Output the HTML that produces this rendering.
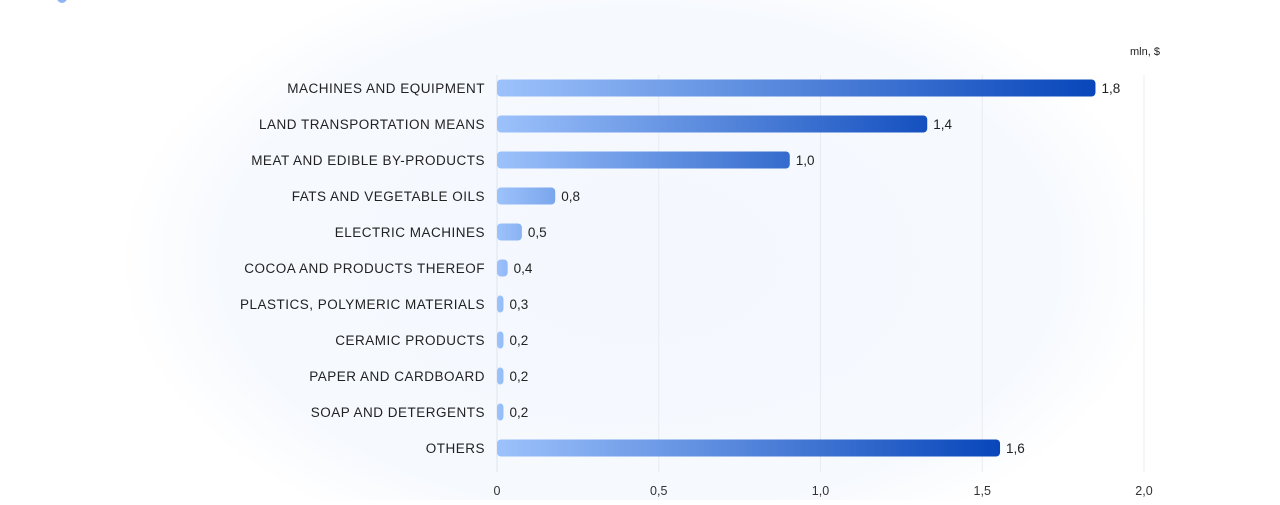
<!DOCTYPE html>
<html><head><meta charset="utf-8"><style>
html,body{margin:0;padding:0;background:#fff;}
body{width:1280px;height:500px;overflow:hidden;font-family:"Liberation Sans",sans-serif;}
</style></head><body>
<svg id="chart" width="1280" height="500" xmlns="http://www.w3.org/2000/svg">
<defs>
<radialGradient id="glow" cx="640" cy="260" r="520" gradientUnits="userSpaceOnUse" gradientTransform="translate(640 260) scale(1 0.6) translate(-640 -260)">
<stop offset="0" stop-color="#f4f8fe"/><stop offset="0.8" stop-color="#f6f9fe"/><stop offset="1" stop-color="#ffffff"/>
</radialGradient>
</defs>
<rect x="0" y="0" width="1280" height="500" fill="#fff"/>
<rect x="0" y="0" width="1280" height="500" fill="url(#glow)"/>
<circle cx="62" cy="-2" r="5" fill="#8fb4f5"/>
<text x="1145" y="55" text-anchor="middle" font-size="11" fill="#222">mln, $</text>
<g id="grid"></g><g id="bars"></g><g id="xticks"></g>
</svg>
<script>
const categories = ["MACHINES AND EQUIPMENT","LAND TRANSPORTATION MEANS","MEAT AND EDIBLE BY-PRODUCTS","FATS AND VEGETABLE OILS","ELECTRIC MACHINES","COCOA AND PRODUCTS THEREOF","PLASTICS, POLYMERIC MATERIALS","CERAMIC PRODUCTS","PAPER AND CARDBOARD","SOAP AND DETERGENTS","OTHERS"];
const values = [1.85,1.33,0.905,0.18,0.077,0.033,0.02,0.02,0.02,0.02,1.555];
const valueLabels = ["1,8","1,4","1,0","0,8","0,5","0,4","0,3","0,2","0,2","0,2","1,6"];
const ticks = [0,0.5,1.0,1.5,2.0];
const tickLabels = ["0","0,5","1,0","1,5","2,0"];

const NS="http://www.w3.org/2000/svg";
const x0=497, x1=1144, xMax=2.0;
const xs=v=>x0+(x1-x0)*v/xMax;
const y0=88, step=36, bh=17;
const ys=i=>y0+i*step;
function mk(t,a,p){const e=document.createElementNS(NS,t);for(const k in a)e.setAttribute(k,a[k]);p.appendChild(e);return e;}
const svg=document.getElementById('chart');
const defs=svg.querySelector('defs');
const grid=document.getElementById('grid'),bars=document.getElementById('bars'),xt=document.getElementById('xticks');
function lerp(a,b,t){return Math.round(a+(b-a)*t);}
const c0=[157,194,251], c1=[8,70,186];
ticks.forEach((t,i)=>{
  const gl=mk('line',{x1:xs(t),x2:xs(t),y1:75,y2:472,stroke:t===0?'#dfe5ee':'#e8ecf2','stroke-width':1},grid);
  
  
  const tl=mk('text',{x:xs(t),y:495,'text-anchor':'middle','font-size':12.5,fill:'#333'},xt);
  tl.textContent=tickLabels[i];
  
  
});
categories.forEach((c,i)=>{
  const y=ys(i), w=Math.max(xs(values[i])-x0,5), t=Math.pow(Math.min(1,values[i]/1.5),0.7);
  const end=[lerp(c0[0],c1[0],t),lerp(c0[1],c1[1],t),lerp(c0[2],c1[2],t)];
  const g=mk('linearGradient',{id:'g'+i,x1:0,x2:1,y1:0,y2:0},defs);
  mk('stop',{offset:0,'stop-color':'rgb(157,194,251)'},g);
  mk('stop',{offset:1,'stop-color':'rgb('+end.join(',')+')'},g);
  const lab=mk('text',{x:485,y:y+5,'text-anchor':'end','font-size':13.5,'letter-spacing':'0.5',fill:'#222'},bars);
  lab.textContent=c;
  
  
  const r=mk('rect',{x:x0,y:y-bh/2,width:w,height:bh,rx:4,fill:'url(#g'+i+')'},bars);
  
  
  const vl=mk('text',{x:x0+w+6,y:y+5,'font-size':13.5,fill:'#222'},bars);
  vl.textContent=valueLabels[i];
  
  
});
</script>
</body></html>
